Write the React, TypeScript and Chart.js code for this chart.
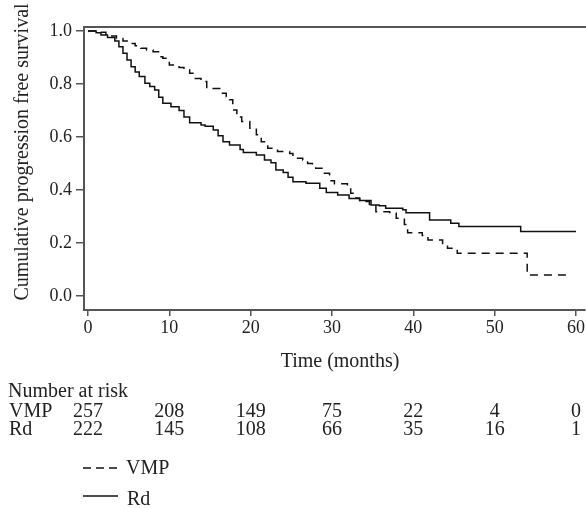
import React, { useEffect, useRef } from 'react';
import { Chart, registerables } from 'chart.js';

Chart.register(...registerables);

// ---- Data ----
const seriesNames = ['VMP', 'Rd'];

const vmpMonths = [0, 1.0, 2.2, 2.7, 3.5, 4.3, 5.1, 5.8, 6.5, 7.2, 8.0, 8.8, 9.2, 10.0, 11.2, 11.8, 12.5, 12.9, 13.9, 14.6, 16.2, 17.0, 17.4, 17.8, 18.3, 18.9, 19.9, 20.7, 21.3, 22.1, 23.3, 24.8, 25.2, 26.4, 27.0, 27.6, 28.0, 28.9, 29.7, 30.3, 31.9, 32.3, 32.8, 33.4, 34.6, 35.4, 37.1, 37.9, 38.9, 39.3, 41.1, 41.8, 43.6, 44.2, 45.4, 53.8, 54.0, 59.5];
const vmpSurvival = [1.0, 0.995, 0.987, 0.981, 0.972, 0.962, 0.953, 0.944, 0.935, 0.928, 0.922, 0.903, 0.897, 0.872, 0.862, 0.853, 0.84, 0.821, 0.809, 0.783, 0.765, 0.752, 0.74, 0.702, 0.675, 0.658, 0.633, 0.608, 0.582, 0.557, 0.545, 0.538, 0.52, 0.513, 0.5, 0.488, 0.482, 0.463, 0.435, 0.423, 0.416, 0.388, 0.37, 0.356, 0.345, 0.318, 0.312, 0.293, 0.27, 0.239, 0.228, 0.211, 0.192, 0.18, 0.161, 0.161, 0.079, 0.079];

const rdMonths = [0, 1.0, 1.6, 2.4, 3.3, 3.8, 4.3, 4.8, 5.3, 5.8, 6.3, 7.0, 7.6, 8.2, 8.7, 9.2, 10.2, 11.2, 11.8, 12.5, 13.9, 14.4, 15.4, 16.0, 16.6, 17.4, 18.7, 19.1, 20.7, 21.7, 22.5, 23.1, 24.0, 24.6, 25.2, 26.8, 28.5, 29.3, 30.7, 32.1, 33.4, 34.8, 35.8, 36.6, 38.7, 39.1, 42.0, 44.6, 45.6, 53.2, 60.0];
const rdSurvival = [1.0, 0.993, 0.985, 0.975, 0.962, 0.94, 0.916, 0.89, 0.865, 0.845, 0.828, 0.803, 0.79, 0.777, 0.75, 0.727, 0.714, 0.7, 0.675, 0.654, 0.645, 0.64, 0.626, 0.605, 0.582, 0.57, 0.553, 0.541, 0.532, 0.513, 0.503, 0.475, 0.466, 0.448, 0.431, 0.425, 0.406, 0.39, 0.381, 0.368, 0.36, 0.343, 0.34, 0.331, 0.325, 0.314, 0.287, 0.274, 0.262, 0.243, 0.243];

const xTicks = [0, 10, 20, 30, 40, 50, 60];
const yTicks = [0, 0.2, 0.4, 0.6, 0.8, 1.0];

const riskTimes = [0, 10, 20, 30, 40, 50, 60];
const vmpAtRisk = [257, 208, 149, 75, 22, 4, 0];
const rdAtRisk = [222, 145, 108, 66, 35, 16, 1];

const FONT = '"Liberation Serif", "Times New Roman", serif';
const TEXT = '#222';
const AXIS = '#555';
const LINE = '#111';

const extrasPlugin = {
  id: 'kmExtras',
  afterDraw(chart: any) {
    const { ctx, chartArea } = chart;
    const xs = chart.scales.x;
    ctx.save();
    // top frame line
    ctx.strokeStyle = AXIS;
    ctx.lineWidth = 2;
    ctx.beginPath();
    ctx.moveTo(chartArea.left - 1, chartArea.top);
    ctx.lineTo(chart.width, chartArea.top);
    ctx.stroke();

    ctx.fillStyle = TEXT;
    ctx.font = `20px ${FONT}`;

    // y title
    ctx.save();
    ctx.translate(28, 152);
    ctx.rotate(-Math.PI / 2);
    ctx.textAlign = 'center';
    ctx.textBaseline = 'alphabetic';
    ctx.fillText('Cumulative progression free survival', 0, 0);
    ctx.restore();

    // x title
    ctx.textAlign = 'center';
    ctx.textBaseline = 'alphabetic';
    ctx.fillText('Time (months)', 340, 367);

    // number at risk
    ctx.textAlign = 'left';
    ctx.fillText('Number at risk', 8, 397);
    ctx.fillText(seriesNames[0], 9, 417);
    ctx.fillText(seriesNames[1], 9, 435);
    ctx.textAlign = 'center';
    riskTimes.forEach((t, i) => {
      const px = xs.getPixelForValue(t);
      ctx.fillText(String(vmpAtRisk[i]), px, 417);
      ctx.fillText(String(rdAtRisk[i]), px, 435);
    });

    // legend
    ctx.strokeStyle = LINE;
    ctx.lineWidth = 1.5;
    ctx.setLineDash([8, 5]);
    ctx.beginPath();
    ctx.moveTo(83, 468);
    ctx.lineTo(118, 468);
    ctx.stroke();
    ctx.setLineDash([]);
    ctx.beginPath();
    ctx.moveTo(83, 496);
    ctx.lineTo(118, 496);
    ctx.stroke();
    ctx.textAlign = 'left';
    ctx.fillText(seriesNames[0], 126, 474);
    ctx.fillText(seriesNames[1], 127, 505);
    ctx.restore();
  },
};

export default function App() {
  const ref = useRef<HTMLCanvasElement | null>(null);
  useEffect(() => {
    document.body.style.margin = '0';
    const canvas = ref.current;
    if (!canvas) return;
    const toPts = (xs: number[], ys: number[]) => xs.map((x, i) => ({ x, y: ys[i] }));
    const chart = new Chart(canvas, {
      type: 'line',
      data: {
        datasets: [
          {
            label: seriesNames[0],
            data: toPts(vmpMonths, vmpSurvival),
            borderColor: LINE,
            borderWidth: 1.5,
            borderDash: [8, 6],
            stepped: 'before',
            pointRadius: 0,
            fill: false,
          },
          {
            label: seriesNames[1],
            data: toPts(rdMonths, rdSurvival),
            borderColor: LINE,
            borderWidth: 1.5,
            stepped: 'before',
            pointRadius: 0,
            fill: false,
          },
        ],
      },
      options: {
        responsive: false,
        animation: false,
        devicePixelRatio: 1,
        layout: { padding: { top: 27, left: 0, right: 0, bottom: 0 } },
        plugins: { legend: { display: false }, tooltip: { enabled: false } },
        scales: {
          x: {
            type: 'linear',
            min: -0.49,
            max: 61.1,
            afterBuildTicks: (s: any) => {
              s.ticks = xTicks.map((v) => ({ value: v }));
            },
            afterFit: (s: any) => {
              s.height = 198;
            },
            grid: { drawOnChartArea: false, drawTicks: true, tickLength: 6, tickColor: AXIS, lineWidth: 1.5 },
            border: { display: true, color: AXIS, width: 2 },
            ticks: {
              font: { family: FONT, size: 18 },
              color: TEXT,
              padding: 1,
              maxRotation: 0,
              autoSkip: false,
              callback: (v: any) => String(v),
            },
          },
          y: {
            type: 'linear',
            min: -0.053,
            max: 1.015,
            afterBuildTicks: (s: any) => {
              s.ticks = yTicks.map((v) => ({ value: v }));
            },
            afterFit: (s: any) => {
              s.width = 84;
            },
            grid: { drawOnChartArea: false, drawTicks: true, tickLength: 8, tickColor: AXIS, lineWidth: 1.5 },
            border: { display: true, color: AXIS, width: 2 },
            ticks: {
              font: { family: FONT, size: 18 },
              color: TEXT,
              padding: 4,
              callback: (v: any) => Number(v).toFixed(1),
            },
          },
        },
      },
      plugins: [extrasPlugin],
    });
    return () => chart.destroy();
  }, []);
  return <canvas ref={ref} width={586} height={508} style={{ display: 'block', width: 586, height: 508 }} />;
}
